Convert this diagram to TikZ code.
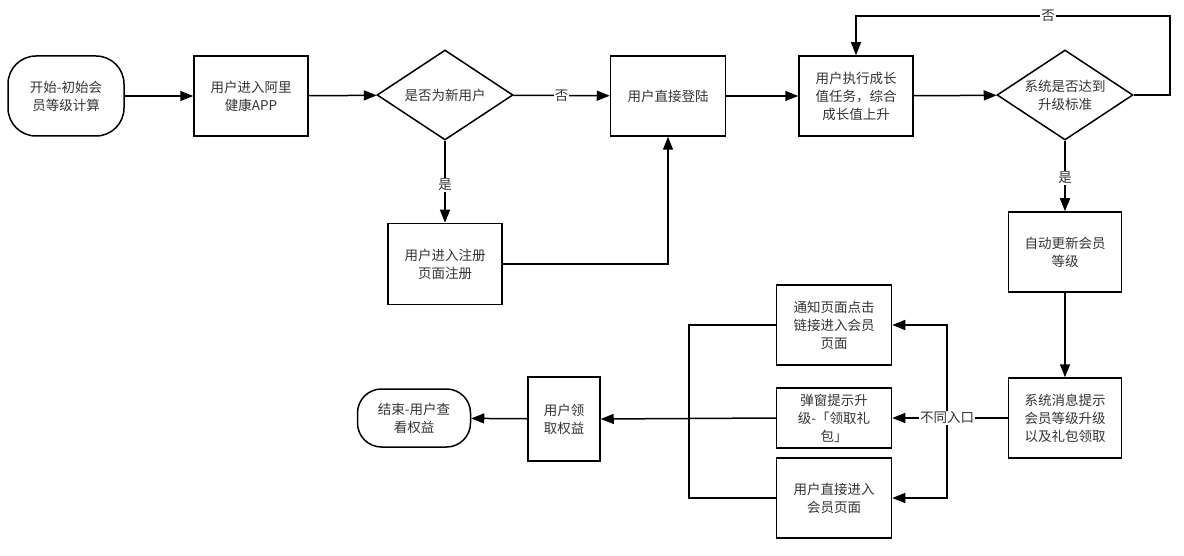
\documentclass[tikz,border=0pt]{standalone}
\usepackage{fontspec}
\newfontfamily\cjk{Noto Sans CJK SC}
\usetikzlibrary{shapes.geometric,arrows.meta}

\begin{document}
\begin{tikzpicture}[x=1pt,y=-1pt,
    every node/.style={font=\cjk\fontsize{13.5}{18}\selectfont, text=black!80, align=center},
    box/.style={draw, line width=1.5pt, inner sep=0pt},
    terminal/.style={box, rounded corners=28pt},
    decision/.style={draw, line width=1.5pt, diamond, inner sep=0pt, shape aspect=1.5, minimum width=136pt, minimum height=90pt},
    link/.style={line width=1.5pt},
    arrow/.style={line width=1.5pt, -{Triangle[length=13pt,width=10pt]}},
    tag/.style={fill=white, inner sep=1pt}]
        \useasboundingbox (0,0) rectangle (1184,556);

        % Ligne du haut
        \node[terminal, minimum width=116pt, minimum height=80pt] (start) at (66,96) {开始-初始会\\员等级计算};
        \node[box, minimum width=114pt, minimum height=80pt] (app) at (251,96) {用户进入阿里\\健康APP};
        \node[decision] (isnew) at (445,95) {是否为新用户};
        \node[box, minimum width=115pt, minimum height=80pt] (login) at (668,96) {用户直接登陆};
        \node[box, minimum width=114pt, minimum height=80pt] (task) at (856,96) {用户执行成长\\值任务，综合\\成长值上升};
        \node[decision] (reach) at (1065,95) {系统是否达到\\升级标准};

        % Inscription
        \node[box, minimum width=114pt, minimum height=81pt] (reg) at (445,264) {用户进入注册\\页面注册};

        % Colonne de droite
        \node[box, minimum width=113pt, minimum height=80pt] (update) at (1065,252) {自动更新会员\\等级};
        \node[box, minimum width=113pt, minimum height=80pt] (sysmsg) at (1065,418) {系统消息提示\\会员等级升级\\以及礼包领取};

        % Entrees differentes
        \node[box, minimum width=115pt, minimum height=80pt] (notice) at (834,325) {通知页面点击\\链接进入会员\\页面};
        \node[box, minimum width=115pt, minimum height=60pt] (popup) at (834,418) {弹窗提示升\\级-「领取礼\\包」};
        \node[box, minimum width=115pt, minimum height=80pt] (direct) at (834,498) {用户直接进入\\会员页面};

        % Fin
        \node[box, minimum width=72pt, minimum height=84pt] (claim) at (564,419) {用户领\\取权益};
        \node[terminal, minimum width=113pt, minimum height=58pt, rounded corners=24pt] (finish) at (414,418) {结束-用户查\\看权益};

        \coordinate (loop) at (1170,16);
        \coordinate (split) at (947,418);
        \coordinate (merge) at (689,418);

        % Fleches du haut
        \draw[arrow] (start) -- (app);
        \draw[arrow] (app) -- (isnew);
        \draw[arrow] (isnew) -- node[tag] {否} (login);
        \draw[arrow] (login) -- (task);
        \draw[arrow] (task) -- (reach);
        \draw[arrow] (reach.east) -| (loop) -| (task.north);
        \node[tag] (no2) at (1048,16) {否};

        % Nouvel utilisateur
        \draw[arrow] (isnew.south) -- (reg.north);
        \node[tag] (yes1) at (445,185) {是};
        \draw[arrow] (reg.east) -| (login.south);

        % Mise a jour
        \draw[arrow] (reach.south) -- (update.north);
        \node[tag] (yes2) at (1065,178) {是};
        \draw[arrow] (update) -- (sysmsg);

        % Vers les entrees
        \draw[link] (sysmsg.west) -- (split);
        \draw[arrow] (split) |- (notice.east);
        \draw[arrow] (split) -- (popup.east);
        \draw[arrow] (split) |- (direct.east);
        \node[tag] (entry) at (split) {不同入口};

        % Retour vers le joueur
        \draw[link] (notice.west) -| (merge);
        \draw[link] (direct.west) -| (merge);
        \draw[arrow] (popup.west) -- (claim.east);
        \draw[arrow] (claim) -- (finish);
    \end{tikzpicture}
\end{document}
